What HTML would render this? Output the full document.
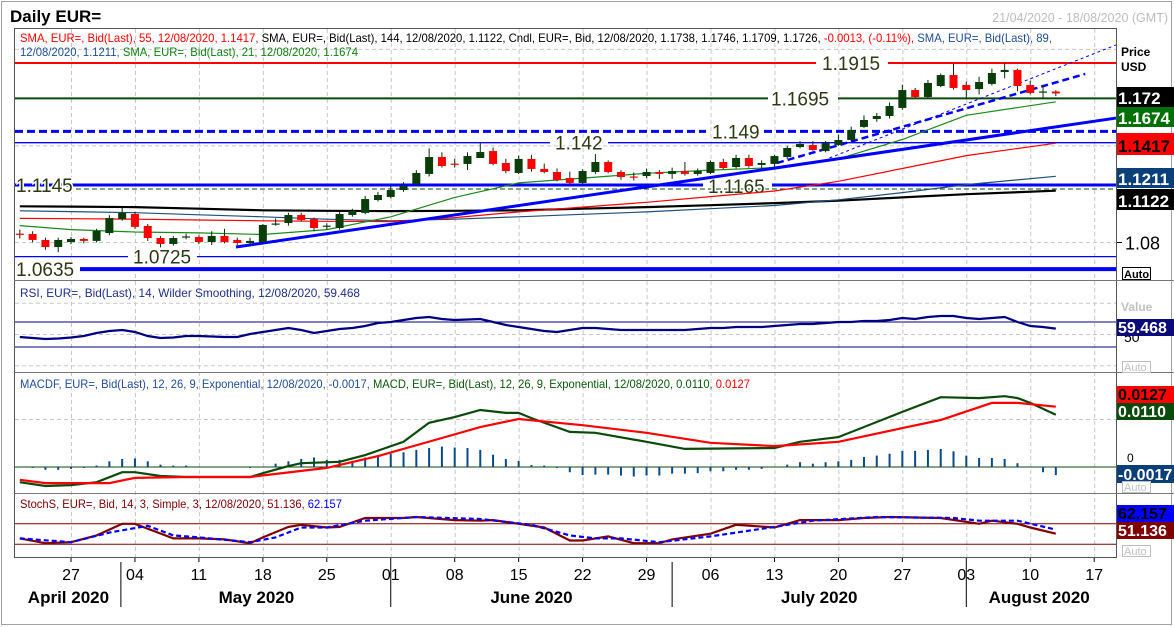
<!DOCTYPE html>
<html><head><meta charset="utf-8"><title>Daily EUR=</title>
<style>
html,body{margin:0;padding:0;background:#fff;}
svg{display:block;font-family:"Liberation Sans",sans-serif;}
</style></head>
<body>
<svg id="chart" xmlns="http://www.w3.org/2000/svg" width="1174" height="627" viewBox="0 0 1174 627">
  <rect x="0" y="0" width="1174" height="627" fill="#fff"/>
  <rect x="1.5" y="1.5" width="1170" height="623" fill="none" stroke="#a0a0a0"/>
  <text x="10" y="22" font-size="17" font-weight="bold" fill="#000">Daily EUR=</text>
  <text x="1168" y="22" font-size="12.5" fill="#bdbdbd" text-anchor="end">21/04/2020 - 18/08/2020 (GMT)</text>
  <g id="grid"></g>
  <g id="main"></g>
  <g id="rsi"></g>
  <g id="macd"></g>
  <g id="stoch"></g>
  <g id="frames">
    <rect x="14.5" y="28.5" width="1102" height="529" fill="none" stroke="#555"/>
    <line x1="14" y1="280.5" x2="1174" y2="280.5" stroke="#777"/>
    <line x1="14" y1="372.5" x2="1174" y2="372.5" stroke="#777"/>
    <line x1="14" y1="493.5" x2="1174" y2="493.5" stroke="#777"/>
  </g>
  <g id="legend" font-size="12">
    <text x="20" y="42" textLength="1032" lengthAdjust="spacingAndGlyphs"><tspan fill="#ff0000">SMA, EUR=, Bid(Last),  55,  12/08/2020,  1.1417, </tspan><tspan fill="#000">SMA, EUR=, Bid(Last),  144,  12/08/2020,  1.1122, Cndl, EUR=, Bid,  12/08/2020,  1.1738,  1.1746,  1.1709,  1.1726, </tspan><tspan fill="#ff0000"> -0.0013,  (-0.11%), </tspan><tspan fill="#1f4e9a">SMA, EUR=, Bid(Last),  89,</tspan></text>
    <text x="20" y="56" textLength="338" lengthAdjust="spacingAndGlyphs"><tspan fill="#1f4e9a">12/08/2020,  1.1211, </tspan><tspan fill="#108010">SMA, EUR=, Bid(Last),  21,  12/08/2020,  1.1674</tspan></text>
    <text x="20" y="297" fill="#1f2f8a" textLength="340" lengthAdjust="spacingAndGlyphs">RSI, EUR=, Bid(Last),  14, Wilder Smoothing,  12/08/2020, 59.468</text>
    <text x="20" y="388" textLength="730" lengthAdjust="spacingAndGlyphs"><tspan fill="#1f4e9a">MACDF, EUR=, Bid(Last),  12, 26, 9, Exponential,  12/08/2020, -0.0017, </tspan><tspan fill="#0a5a0a">MACD, EUR=, Bid(Last),  12, 26, 9, Exponential,  12/08/2020, 0.0110, </tspan><tspan fill="#ff0000">0.0127</tspan></text>
    <text x="20" y="508" textLength="322" lengthAdjust="spacingAndGlyphs"><tspan fill="#800000">StochS, EUR=, Bid,  14, 3, Simple, 3,  12/08/2020, 51.136, </tspan><tspan fill="#0000ff">62.157</tspan></text>
  </g>
  <g id="axis"></g>
  <g id="dates"></g>
</svg>
<script>
// ---------- DATA ----------
// candle index: 0 = 27 Apr 2020 (trading days); -4 = 21 Apr
const candleStart = -4;
const opens  = [1.0855,1.0853,1.0816,1.0772,1.0803,1.0822,1.0810,1.0859,1.0946,1.0977,1.0903,1.0828,1.0791,1.0834,1.0834,1.0803,1.0841,1.0816,1.0797,1.0803,1.0912,1.0921,1.0971,1.0946,1.0900,1.0890,1.0971,1.0984,1.1064,1.1083,1.1126,1.1164,1.1226,1.1331,1.1290,1.1288,1.1325,1.1368,1.1294,1.1232,1.1319,1.1257,1.1238,1.1201,1.1170,1.1238,1.1300,1.1238,1.1210,1.1213,1.1238,1.1226,1.1244,1.1226,1.1232,1.1300,1.1269,1.1325,1.1282,1.1288,1.1331,1.1393,1.1406,1.1368,1.1406,1.1437,1.1518,1.1567,1.1586,1.1636,1.1747,1.1704,1.1772,1.1840,1.1778,1.1753,1.1785,1.1859,1.1872,1.1778,1.1735,1.1738];
const highs  = [1.0880,1.0870,1.0830,1.0830,1.0835,1.0830,1.0885,1.0970,1.1015,1.0990,1.0915,1.0840,1.0840,1.0855,1.0845,1.0870,1.0885,1.0830,1.0830,1.0915,1.0950,1.0985,1.0985,1.0955,1.0920,1.0990,1.1010,1.1090,1.1115,1.1150,1.1175,1.1250,1.1385,1.1360,1.1320,1.1360,1.1420,1.1390,1.1320,1.1340,1.1345,1.1290,1.1260,1.1240,1.1255,1.1350,1.1310,1.1250,1.1235,1.1260,1.1250,1.1265,1.1300,1.1260,1.1310,1.1320,1.1345,1.1345,1.1310,1.1345,1.1400,1.1430,1.1430,1.1430,1.1470,1.1520,1.1590,1.1605,1.1670,1.1780,1.1760,1.1810,1.1850,1.1910,1.1800,1.1830,1.1880,1.1915,1.1880,1.1805,1.1780,1.1746];
const lows   = [1.0825,1.0800,1.0755,1.0740,1.0790,1.0795,1.0800,1.0845,1.0935,1.0885,1.0810,1.0770,1.0780,1.0820,1.0790,1.0785,1.0795,1.0785,1.0790,1.0795,1.0905,1.0905,1.0930,1.0870,1.0880,1.0880,1.0960,1.0975,1.1055,1.1075,1.1115,1.1150,1.1210,1.1265,1.1265,1.1250,1.1340,1.1280,1.1230,1.1225,1.1240,1.1230,1.1180,1.1165,1.1165,1.1225,1.1230,1.1190,1.1185,1.1200,1.1195,1.1195,1.1215,1.1215,1.1225,1.1255,1.1260,1.1265,1.1260,1.1270,1.1320,1.1385,1.1370,1.1360,1.1400,1.1430,1.1510,1.1550,1.1570,1.1625,1.1695,1.1695,1.1765,1.1750,1.1700,1.1720,1.1775,1.1820,1.1740,1.1720,1.1700,1.1709];
const closes = [1.0850,1.0816,1.0772,1.0816,1.0822,1.0810,1.0872,1.0952,1.0984,1.0897,1.0828,1.0791,1.0828,1.0838,1.0803,1.0841,1.0803,1.0797,1.0810,1.0909,1.0918,1.0971,1.0940,1.0890,1.0905,1.0977,1.0996,1.1070,1.1095,1.1126,1.1151,1.1232,1.1331,1.1275,1.1286,1.1337,1.1362,1.1288,1.1244,1.1319,1.1257,1.1238,1.1188,1.1170,1.1244,1.1300,1.1238,1.1207,1.1205,1.1238,1.1226,1.1244,1.1226,1.1244,1.1300,1.1263,1.1325,1.1275,1.1294,1.1337,1.1387,1.1412,1.1375,1.1418,1.1437,1.1499,1.1561,1.1586,1.1648,1.1747,1.1704,1.1791,1.1840,1.1760,1.1747,1.1797,1.1853,1.1872,1.1772,1.1729,1.1738,1.1726];

// moving averages (sampled at candle indices)
const smaIdx   = [-4,0,5,10,15,20,25,30,35,40,45,50,55,60,65,70,77];
const sma21    = [1.0905,1.0880,1.0865,1.0860,1.0850,1.0880,1.0960,1.1080,1.1170,1.1200,1.1230,1.1250,1.1265,1.1320,1.1440,1.1590,1.1674];
const sma55    = [1.0950,1.0948,1.0945,1.0940,1.0935,1.0932,1.0930,1.0955,1.0990,1.1020,1.1050,1.1085,1.1120,1.1180,1.1260,1.1340,1.1417];
const sma89    = [1.0997,1.0992,1.0985,1.0972,1.0960,1.0945,1.0935,1.0945,1.0960,1.0975,1.0990,1.1010,1.1030,1.1065,1.1110,1.1160,1.1211];
const sma144   = [1.1025,1.1023,1.1020,1.1010,1.1000,1.0997,1.0995,1.0997,1.1000,1.1010,1.1020,1.1032,1.1045,1.1060,1.1080,1.1100,1.1122];

// horizontal support / resistance levels
const levelValues = [1.1915,1.1695,1.149,1.142,1.1145,1.0725,1.0635];

// RSI per candle
const rsiValues = [46.0,44.4,42.8,43.6,45.2,47.6,52.4,55.6,57.2,54.0,47.6,44.4,45.2,47.6,47.6,46.8,46.0,46.0,50.8,54.0,57.2,60.4,57.2,52.4,55.6,58.8,60.4,63.6,68.4,70.0,73.2,76.4,78.0,74.8,73.2,74.0,74.8,70.0,65.2,62.0,58.8,55.6,54.0,57.2,60.4,60.4,58.8,57.2,57.2,57.2,57.2,57.2,57.2,58.8,60.4,60.4,62.0,62.0,62.0,63.6,65.2,66.8,66.8,68.4,70.0,70.0,71.6,71.6,73.2,76.4,74.8,78.0,79.6,79.6,76.4,74.8,76.4,78.0,70.0,63.6,62.0,59.5];

// MACD line & signal (sampled)
const macdIdx  = [-4,-2,0,2,4,5,7,9,14,15,17,18,21,23,26,28,30,32,34,35,36,39,41,45,48,55,57,60,65,68,71,73,74,75,77];
const macdVals = [-0.0032,-0.0040,-0.0038,-0.0032,-0.0011,-0.0011,-0.0019,-0.0021,-0.0021,-0.0013,0.0002,0.0008,0.0011,0.0025,0.0053,0.0093,0.0105,0.0120,0.0114,0.0114,0.0103,0.0074,0.0072,0.0053,0.0038,0.0040,0.0053,0.0063,0.0116,0.0147,0.0145,0.0149,0.0145,0.0135,0.0110];
const sigIdx   = [-4,-2,3,5,9,14,20,24,29,32,35,40,45,50,55,60,65,68,72,74,77];
const sigVals  = [-0.0027,-0.0034,-0.0034,-0.0023,-0.0021,-0.0021,-0.0002,0.0023,0.0061,0.0084,0.0101,0.0088,0.0072,0.0051,0.0044,0.0053,0.0082,0.0099,0.0135,0.0135,0.0127];
// MACD histogram per candle
const histVals = [0,-0.0002,-0.0006,-0.0006,-0.0004,-0.0002,0.0003,0.0012,0.0017,0.0018,0.0012,0.0005,0.0003,0.0003,0,0,0,-0.0001,-0.0002,0.0001,0.0007,0.0012,0.0017,0.0020,0.0015,0.0015,0.0013,0.0020,0.0024,0.0028,0.0031,0.0036,0.0040,0.0043,0.0041,0.0040,0.0036,0.0026,0.0017,0.0013,0.0004,0.0003,-0.0002,-0.0011,-0.0017,-0.0016,-0.0016,-0.0018,-0.0020,-0.0018,-0.0018,-0.0014,-0.0014,-0.0013,-0.0009,-0.0009,-0.0006,-0.0006,-0.0004,0,0.0005,0.0010,0.0007,0.0010,0.0012,0.0015,0.0021,0.0024,0.0028,0.0034,0.0034,0.0036,0.0038,0.0033,0.0024,0.0019,0.0019,0.0017,0.0008,-0.0001,-0.0011,-0.0017];

// Stochastic (sampled)
const stochKIdx = [-4,-2,0,2,4,5,8,10,12,14,15,17,18,20,21,23,26,27,30,32,33,35,37,39,40,42,44,46,47,50,52,55,57,60,62,64,68,71,72,74,75,77];
const stochK    = [37,23,26,46,80,80,37,37,34,23,40,71,77,69,71,97,97,100,91,89,91,80,69,31,31,43,23,23,34,51,77,69,91,91,97,100,97,80,89,80,69,51];
const stochDIdx = [-4,0,3,6,8,10,14,16,18,20,23,27,32,36,39,41,43,46,50,55,58,63,69,71,74,77];
const stochD    = [37,26,54,74,46,40,26,40,69,69,89,100,94,77,46,37,37,26,43,71,89,100,97,89,89,63];

// axis labels
const dayTicks   = ["27","04","11","18","25","01","08","15","22","29","06","13","20","27","03","10","17"];
const monthNames = ["April 2020","May 2020","June 2020","July 2020","August 2020"];
const monthPos   = [-0.2,14.5,36,58.5,75.7];   // label centre in candle-index units
const monthSplit = [3.9,25,47,70];             // month boundary in candle-index units

// ---------- SCALES ----------
const X0 = 71, DX = 12.79, PLOT_R = 1116;
const xOf = i => X0 + i * DX;
const yP = p => 63 + (1.1915 - p) * 1610;
const yR = v => 365.75 - v * 0.625;
const yM = v => 467 - v * 4750;
const yS = v => 551 - v * 0.34;

const NS = "http://www.w3.org/2000/svg";
function mk(tag, parent, attrs) {
  const e = document.createElementNS(NS, tag);
  for (const k in attrs) e.setAttribute(k, attrs[k]);
  parent.appendChild(e);
  return e;
}
function pts(idx, vals, ys) { return idx.map((i, k) => xOf(i).toFixed(1) + "," + ys(vals[k]).toFixed(1)).join(" "); }
function seqIdx(n, start) { const a = []; for (let k = 0; k < n; k++) a.push(start + k); return a; }

const G = id => document.getElementById(id);
const grid = G("grid"), main = G("main"), rsi = G("rsi"), macd = G("macd"), stoch = G("stoch"), axis = G("axis"), dates = G("dates");

// ---------- GRID ----------
dayTicks.forEach((t, k) => {
  const x = xOf(k * 5) + 0.5;
  const l = mk("line", grid, {x1: x, y1: 29, x2: x, y2: 557, stroke: "#c8c8c8", "stroke-dasharray": "4,3"});
  
  
});
[1.08, 1.14, 1.20].forEach(p => {
  const l = mk("line", grid, {x1: 15, y1: yP(p), x2: PLOT_R, y2: yP(p), stroke: "#c8c8c8", "stroke-dasharray": "4,3"});
  
  
});
[100, 50, 0].forEach(v => {
  const l = mk("line", grid, {x1: 15, y1: yR(v), x2: PLOT_R, y2: yR(v), stroke: "#c8c8c8", "stroke-dasharray": "4,3"});
  
  
});
{
  const l = mk("line", grid, {x1: 15, y1: yM(0.01), x2: PLOT_R, y2: yM(0.01), stroke: "#c8c8c8", "stroke-dasharray": "4,3"});
  
  
}

// ---------- MAIN PANEL ----------
function hline(y, x1, x2, color, w, dash, name) {
  const l = mk("line", main, {x1: x1, y1: y, x2: x2, y2: y, stroke: color, "stroke-width": w});
  if (dash) l.setAttribute("stroke-dasharray", dash);
  
  
}
function levelLabel(txt, x, y) {
  const t = mk("text", main, {x: x, y: y + 7, "font-size": 19, fill: "#2c3a14", stroke: "#fff", "stroke-width": 3, "paint-order": "stroke"});
  t.textContent = txt;
  
  
}
let y = yP(levelValues[0]);
hline(y, 15, 816, "#ff0000", 2, null, "level-1-1915"); hline(y, 888, PLOT_R, "#ff0000", 2, null, "level-1-1915");
levelLabel("1.1915", 822, y);
y = yP(levelValues[1]);
hline(y, 15, 768, "#0a4a0a", 2, null, "level-1-1695"); hline(y, 838, PLOT_R, "#0a4a0a", 2, null, "level-1-1695");
levelLabel("1.1695", 771, y);
y = yP(levelValues[2]);
hline(y, 15, 706, "#0000ff", 3, "8,4", "level-1-149"); hline(y, 764, PLOT_R, "#0000ff", 3, "8,4", "level-1-149");
levelLabel("1.149", 712, y);
y = yP(levelValues[3]);
hline(y, 15, 550, "#0000ff", 1.3, null, "level-1-142"); hline(y, 608, PLOT_R, "#0000ff", 1.3, null, "level-1-142");
levelLabel("1.142", 555, y);
y = yP(levelValues[4]) - 2;
hline(y, 15, 703, "#0000ff", 3, null, "level-1-1145"); hline(y, 772, PLOT_R, "#0000ff", 3, null, "level-1-1145");
hline(y + 4, 76, PLOT_R, "#0a4a0a", 1, "5,3", "level-1-1165");
levelLabel("1.1145", 16, y);
levelLabel("1.1165", 708, y + 1);
y = yP(levelValues[5]) + 2;
hline(y, 15, 128, "#0000ff", 1.3, null, "level-1-0725"); hline(y, 197, PLOT_R, "#0000ff", 1.3, null, "level-1-0725");
levelLabel("1.0725", 133, y);
y = yP(levelValues[6]);
hline(y, 80, PLOT_R, "#0000ff", 4, null, "level-1-0635");
levelLabel("1.0635", 16, y);

function maLine(parent, vals, color, w, name) {
  const l = mk("polyline", parent, {points: pts(smaIdx, vals, yP), fill: "none", stroke: color, "stroke-width": w});
  
  
}
maLine(main, sma144, "#000", 2.2, "sma-144");
maLine(main, sma89, "#1f4e79", 1.2, "sma-89");
maLine(main, sma55, "#ff0000", 1.2, "sma-55");
maLine(main, sma21, "#1a8a1a", 1.2, "sma-21");

const trendIdx = [[12.9, 81.8], [55.2, 79.3], [59.3, 81.8]];
const trendPx  = [[1.0772, 1.1573], [1.1294, 1.1847], [1.1325, 1.2027]];
[[3, null, "trendline-main"], [2.5, "7,4", "trendline-dashed"], [1, "3,3", "trendline-thin"]].forEach((s, k) => {
  const l = mk("line", main, {x1: xOf(trendIdx[k][0]), y1: yP(trendPx[k][0]), x2: Math.min(xOf(trendIdx[k][1]), PLOT_R), y2: yP(trendPx[k][1]), stroke: "#0000ff", "stroke-width": s[0]});
  if (s[1]) l.setAttribute("stroke-dasharray", s[1]);
  
  
});

opens.forEach((o, k) => {
  const i = candleStart + k, c = closes[k], x = xOf(i);
  const up = c >= o;
  const col = up ? "#0a3d0a" : "#ff0000";
  const w = mk("line", main, {x1: x, y1: yP(highs[k]), x2: x, y2: yP(lows[k]), stroke: "#0a2a0a", "stroke-width": 1});
  
  
  const top = yP(Math.max(o, c)), bot = yP(Math.min(o, c));
  const b = mk("rect", main, {x: x - 4, y: top, width: 8, height: Math.max(bot - top, 1.2), fill: col});
  
  
});

// ---------- RSI ----------
[70, 30].forEach(v => {
  const l = mk("line", rsi, {x1: 15, y1: yR(v), x2: PLOT_R, y2: yR(v), stroke: "#000080", "stroke-width": 1});
  
  
});
{
  const l = mk("polyline", rsi, {points: pts(seqIdx(rsiValues.length, candleStart), rsiValues, yR), fill: "none", stroke: "#000080", "stroke-width": 2.2});
  
  
}

// ---------- MACD ----------
{
  const l = mk("line", macd, {x1: 15, y1: yM(0), x2: PLOT_R, y2: yM(0), stroke: "#0a4a0a", "stroke-width": 1});
  
  
}
histVals.forEach((v, k) => {
  const x = xOf(candleStart + k);
  const b = mk("rect", macd, {x: x - 1, y: Math.min(yM(v), yM(0)), width: 2, height: Math.max(Math.abs(yM(v) - yM(0)), 0.01), fill: "#0a4a8a"});
  
  
});
{
  const l = mk("polyline", macd, {points: pts(macdIdx, macdVals, yM), fill: "none", stroke: "#0a4a0a", "stroke-width": 2.2});
  
  
  const s = mk("polyline", macd, {points: pts(sigIdx, sigVals, yM), fill: "none", stroke: "#ff0000", "stroke-width": 2.2});
  
  
}

// ---------- STOCH ----------
[80, 20].forEach(v => {
  const l = mk("line", stoch, {x1: 15, y1: yS(v), x2: PLOT_R, y2: yS(v), stroke: "#800000", "stroke-width": 1});
  
  
});
{
  const k = mk("polyline", stoch, {points: pts(stochKIdx, stochK, yS), fill: "none", stroke: "#800000", "stroke-width": 2.2});
  
  
  const d = mk("polyline", stoch, {points: pts(stochDIdx, stochD, yS), fill: "none", stroke: "#0000ff", "stroke-width": 2.2, "stroke-dasharray": "5,3"});
  
  
}

// ---------- RIGHT AXIS ----------
function tag(txt, y0, h, bg, fg, name, fs) {
  const r = mk("rect", axis, {x: 1117, y: y0, width: 57, height: h, fill: bg});
  
  
  const t = mk("text", axis, {x: 1118, y: y0 + h - 3, "font-size": fs || 17, "font-weight": "bold", fill: fg});
  t.textContent = txt;
  
  
}
function plain(txt, x, yy, fs, col, name, bold) {
  const t = mk("text", axis, {x: x, y: yy, "font-size": fs, fill: col});
  if (bold) t.setAttribute("font-weight", "bold");
  t.textContent = txt;
  
  
}
function autoBox(yy, name) {
  const r = mk("rect", axis, {x: 1122.5, y: yy + 0.5, width: 28, height: 11, fill: "#fff", stroke: "#c0c0c0"});
  
  
  plain("Auto", 1124, yy + 10, 11, "#c0c0c0", name);
}
plain("Price", 1121, 56, 12, "#000", "price-axis-title", true);
plain("USD", 1121, 71, 12, "#000", "currency-label", true);
tag("1.172", 87, 20, "#000", "#fff", "last-price-tag");
tag("1.1674", 107, 20, "#007000", "#fff", "sma21-tag");
tag("1.1417", 133, 22, "#ff0000", "#000", "sma55-tag");
tag("1.1211", 168, 20, "#0a3f7a", "#fff", "sma89-tag");
tag("1.1122", 189, 21, "#000", "#fff", "sma144-tag");
{
  const l = mk("line", axis, {x1: 1117, y1: yP(1.08), x2: 1122, y2: yP(1.08), stroke: "#000"});
  
  
}
plain("1.08", 1125, yP(1.08) + 7, 18, "#000", "price-tick-label");
{
  const r = mk("rect", axis, {x: 1122.5, y: 267.5, width: 28, height: 12, fill: "#fff", stroke: "#000"});
  
  
  plain("Auto", 1124, 278, 11, "#000", "price-auto", true);
}
plain("Value", 1121, 311, 12, "#c0c0c0", "rsi-axis-title", true);
plain("50", 1124, 342, 14, "#000", "rsi-tick-50");
tag("59.468", 319, 17, "#0a0a7a", "#fff", "rsi-tag", 16);
autoBox(361, "rsi-auto");
tag("0.0127", 386, 17, "#ff0000", "#000", "signal-tag", 16);
tag("0.0110", 403, 17, "#0a4a0a", "#fff", "macd-tag", 16);
plain("0", 1127, 462, 12, "#000", "macd-tick-0");
tag("-0.0017", 465, 18, "#0a3f7a", "#fff", "histogram-tag", 16);
autoBox(481, "macd-auto");
tag("62.157", 505, 17, "#0000ff", "#000", "stoch-d-tag", 16);
tag("51.136", 522, 17, "#800000", "#fff", "stoch-k-tag", 16);
autoBox(545, "stoch-auto");

// ---------- DATE AXIS ----------
dayTicks.forEach((t, k) => {
  const x = xOf(k * 5);
  const tk = mk("line", dates, {x1: x, y1: 558, x2: x, y2: 562, stroke: "#000"});
  
  
  const tx = mk("text", dates, {x: x, y: 580, "font-size": 16, "text-anchor": "middle", fill: "#000"});
  tx.textContent = t;
  
  
});
monthSplit.forEach(i => {
  const l = mk("line", dates, {x1: xOf(i), y1: 562, x2: xOf(i), y2: 607, stroke: "#000"});
  
  
});
monthNames.forEach((m, k) => {
  const t = mk("text", dates, {x: xOf(monthPos[k]), y: 603, "font-size": 17, "font-weight": "bold", "text-anchor": "middle", fill: "#000"});
  t.textContent = m;
  
  
});
</script>
</body></html>
